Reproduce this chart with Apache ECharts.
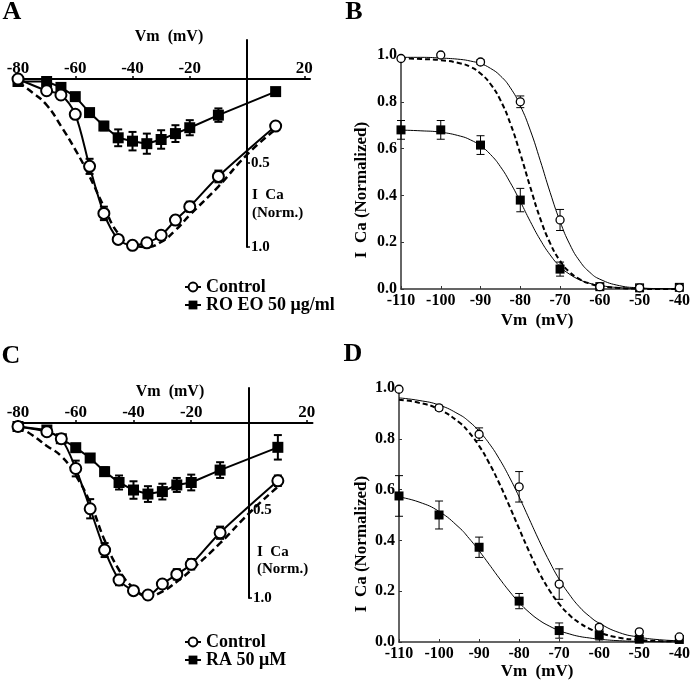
<!DOCTYPE html>
<html><head><meta charset="utf-8">
<script src="https://cdn.jsdelivr.net/npm/echarts@6/dist/echarts.min.js"></script>
<style>html,body{margin:0;padding:0;background:#fff}#c{width:693px;height:681px}</style>
</head><body><div id="c"></div>
<script>
// ---------- Panel A (I-V, RO EO) ----------
const vA = [-80,-70,-65,-60,-55,-50,-45,-40,-35,-30,-25,-20,-10,10];
const ctrlA = [0, 0.07, 0.095, 0.21, 0.52, 0.80, 0.955, 0.99, 0.975, 0.93, 0.84, 0.76, 0.58, 0.28];
const ctrlAErr = [0, 0.01, 0.015, 0.02, 0.045, 0.04, 0.02, 0.015, 0.015, 0.02, 0.025, 0.03, 0.035, 0.02];
const roA = [0.015, 0.015, 0.05, 0.105, 0.20, 0.28, 0.35, 0.37, 0.385, 0.36, 0.325, 0.29, 0.215, 0.075];
const roAErr = [0.01, 0.01, 0.015, 0.02, 0.02, 0.025, 0.05, 0.055, 0.06, 0.055, 0.05, 0.045, 0.04, 0.01];
const dashVA = [-80,-75,-70,-65,-60,-55,-50,-45,-40,-35,-30,-25,-20,-10,0,10];
const dashA = [0.02, 0.08, 0.155, 0.28, 0.42, 0.58, 0.76, 0.92, 0.99, 1.0, 0.97, 0.9, 0.81, 0.64, 0.45, 0.3];
const xTicksAC = [-80,-60,-40,-20,20];
const yTicksAC = [0.5, 1.0];

// ---------- Panel C (I-V, RA) ----------
const vC = [-80,-70,-65,-60,-55,-50,-45,-40,-35,-30,-25,-20,-10,10];
const ctrlC = [0.02, 0.05, 0.09, 0.26, 0.49, 0.726, 0.897, 0.958, 0.983, 0.92, 0.865, 0.807, 0.627, 0.33];
const ctrlCErr = [0.01, 0.015, 0.02, 0.045, 0.055, 0.04, 0.03, 0.02, 0.015, 0.02, 0.03, 0.03, 0.035, 0.03];
const raC = [0.02, 0.04, 0.09, 0.141, 0.20, 0.278, 0.34, 0.383, 0.406, 0.392, 0.354, 0.34, 0.269, 0.139];
const raCErr = [0.01, 0.01, 0.015, 0.02, 0.02, 0.025, 0.04, 0.05, 0.045, 0.045, 0.04, 0.045, 0.045, 0.07];
const dashVC = [-80,-75,-70,-65,-60,-55,-50,-45,-40,-35,-30,-25,-20,-10,0,10];
const dashC = [0.02, 0.07, 0.131, 0.19, 0.3, 0.457, 0.67, 0.84, 0.943, 0.99, 0.963, 0.907, 0.84, 0.687, 0.516, 0.364];

// ---------- Panels B & D (inactivation) ----------
const vBD = [-110,-100,-90,-80,-70,-60,-50,-40];
const ctrlB = [0.985, 1.0, 0.97, 0.80, 0.295, 0.01, 0.005, 0.005];
const ctrlBErr = [0.005, 0.005, 0.01, 0.025, 0.045, 0.005, 0.003, 0.003];
const roB = [0.68, 0.68, 0.615, 0.38, 0.085, 0.01, 0.005, 0.007];
const roBErr = [0.04, 0.04, 0.04, 0.05, 0.03, 0.01, 0.005, 0.005];
const ctrlD = [0.995, 0.922, 0.818, 0.611, 0.228, 0.058, 0.04, 0.02];
const ctrlDErr = [0.005, 0.01, 0.025, 0.06, 0.06, 0.01, 0.005, 0.005];
const raD = [0.575, 0.50, 0.373, 0.161, 0.045, 0.028, 0.011, 0.01];
const raDErr = [0.08, 0.055, 0.04, 0.03, 0.03, 0.02, 0.005, 0.005];

// fitted curves
const fitV = [-110,-105,-100,-95,-92.5,-90,-87.5,-85,-82.5,-80,-77.5,-75,-72.5,-70,-67.5,-65,-62.5,-60,-55,-50,-45,-40];
const fitCtrlB = [0.99,0.99,0.987,0.981,0.974,0.963,0.943,0.911,0.860,0.783,0.679,0.550,0.413,0.289,0.189,0.118,0.071,0.042,0.014,0.005,0.0015,0.0005];
const fitRoB = [0.679,0.676,0.670,0.653,0.637,0.612,0.575,0.523,0.454,0.374,0.289,0.211,0.146,0.096,0.062,0.039,0.024,0.015,0.0056,0.002,0.001,0.0];
const fitDashB = [0.985,0.983,0.978,0.964,0.949,0.921,0.876,0.807,0.707,0.578,0.436,0.302,0.196,0.120,0.071,0.041,0.023,0.013,0.004,0.001,0.0,0.0];
const fitCtrlD = [0.961,0.951,0.933,0.896,0.868,0.830,0.782,0.722,0.651,0.571,0.485,0.399,0.319,0.247,0.188,0.139,0.102,0.074,0.037,0.019,0.009,0.005];
const fitDashD = [0.954,0.942,0.916,0.865,0.825,0.772,0.705,0.626,0.538,0.446,0.356,0.274,0.205,0.150,0.107,0.076,0.053,0.037,0.017,0.008,0.004,0.002];
const fitRaD = [0.571,0.551,0.514,0.451,0.408,0.359,0.306,0.252,0.201,0.155,0.117,0.086,0.063,0.045,0.032,0.022,0.016,0.011,0.005,0.0025,0.001,0.0006];

const FONT = '"Liberation Serif", "Times New Roman", serif';
const zip = (xs, ys) => xs.map((x, i) => [x, ys[i]]);
const errData = (xs, ys, es) => xs.map((x, i) => [x, ys[i] - es[i], ys[i] + es[i]]);

function errSeries(idx, data, lw, cap, z) {
  return {
    type: 'custom', xAxisIndex: idx, yAxisIndex: idx, data: data, z: z || 2, clip: false, silent: true,
    renderItem: function (params, api) {
      const x = api.value(0);
      const p1 = api.coord([x, api.value(1)]);
      const p2 = api.coord([x, api.value(2)]);
      const st = { stroke: '#000', lineWidth: lw };
      return { type: 'group', children: [
        { type: 'line', shape: { x1: p1[0], y1: p1[1], x2: p2[0], y2: p2[1] }, style: st },
        { type: 'line', shape: { x1: p1[0] - cap, y1: p1[1], x2: p1[0] + cap, y2: p1[1] }, style: st },
        { type: 'line', shape: { x1: p2[0] - cap, y1: p2[1], x2: p2[0] + cap, y2: p2[1] }, style: st }
      ]};
    }
  };
}

// I-V panels: data grid has x axis along its top edge (I = 0)
function ivXAxis(idx) {
  return {
    gridIndex: idx, type: 'value', min: -80, max: 22, position: 'top',
    axisLine: { onZero: false, lineStyle: { color: '#000', width: 2 } },
    axisTick: { show: true, inside: false, length: 3, customValues: xTicksAC, lineStyle: { color: '#000', width: 1.5 } },
    axisLabel: { customValues: xTicksAC, margin: 2, color: '#000', fontFamily: FONT, fontWeight: 'bold', fontSize: 17 },
    splitLine: { show: false }
  };
}
function ivYData(idx) {
  return { gridIndex: idx, type: 'value', min: 0, max: 1.0, inverse: true, show: false };
}
// I-V panels: separate thin grid placed at V = 0 carrying the current axis
function ivYAxis(idx, min) {
  return {
    gridIndex: idx, type: 'value', min: min, max: 1.0, inverse: true, position: 'left',
    axisLine: { show: true, onZero: false, lineStyle: { color: '#000', width: 2 } },
    axisTick: { show: true, inside: true, length: 3, customValues: yTicksAC, lineStyle: { color: '#000', width: 1.5 } },
    axisLabel: { inside: true, customValues: yTicksAC, margin: 4, color: '#000', fontFamily: FONT, fontWeight: 'bold', fontSize: 15,
      formatter: v => v.toFixed(1) },
    splitLine: { show: false }
  };
}
function hiddenX(idx) {
  return { gridIndex: idx, type: 'value', min: 0, max: 1, show: false };
}
function inXAxis(idx) {
  return {
    gridIndex: idx, type: 'value', min: -110, max: -40, interval: 10,
    axisLine: { onZero: false, lineStyle: { color: '#333', width: 1.5 } },
    axisTick: { show: true, inside: true, length: 3, lineStyle: { color: '#333' } },
    axisLabel: { margin: 4, color: '#000', fontFamily: FONT, fontWeight: 'bold', fontSize: 16 },
    splitLine: { show: false }
  };
}
function inYAxis(idx) {
  return {
    gridIndex: idx, type: 'value', min: 0, max: 1.0, interval: 0.2,
    axisLine: { show: true, onZero: false, lineStyle: { color: '#333', width: 1.5 } },
    axisTick: { show: true, inside: true, length: 3, lineStyle: { color: '#333' } },
    axisLabel: { margin: 4, color: '#000', fontFamily: FONT, fontWeight: 'bold', fontSize: 16, formatter: v => v.toFixed(1) },
    splitLine: { show: false }
  };
}

function ivSeries(idx, ctrlName, drugName, xs, ctrl, ctrlE, drug, drugE, dX, dY) {
  return [
    { type: 'line', xAxisIndex: idx, yAxisIndex: idx, data: zip(dX, dY), smooth: true, showSymbol: false, silent: true, clip: false,
      lineStyle: { color: '#000', width: 2.5, type: [7, 4] }, z: 1 },
    errSeries(idx, errData(xs, drug, drugE), 2, 4, 2),
    errSeries(idx, errData(xs, ctrl, ctrlE), 2, 4, 2),
    { type: 'line', name: drugName, xAxisIndex: idx, yAxisIndex: idx, data: zip(xs, drug), symbol: 'rect', symbolSize: 11, clip: false,
      itemStyle: { color: '#000' }, lineStyle: { color: '#000', width: 2 }, z: 3 },
    { type: 'line', name: ctrlName, xAxisIndex: idx, yAxisIndex: idx, data: zip(xs, ctrl), smooth: 0.3, symbol: 'circle', symbolSize: 11, clip: false,
      itemStyle: { color: '#fff', borderColor: '#000', borderWidth: 2 }, lineStyle: { color: '#000', width: 2 }, z: 4 }
  ];
}
function inSeries(idx, ctrl, ctrlE, drug, drugE, fC, fD, fDash) {
  const fl = (d, w, t) => ({ type: 'line', xAxisIndex: idx, yAxisIndex: idx, data: zip(fitV, d), smooth: true, showSymbol: false,
    silent: true, lineStyle: { color: '#000', width: w, type: t }, z: 1 });
  return [
    fl(fDash, 2, [5, 3]), fl(fC, 1, 'solid'), fl(fD, 1, 'solid'),
    errSeries(idx, errData(vBD, drug, drugE), 1, 4, 2),
    errSeries(idx, errData(vBD, ctrl, ctrlE), 1, 4, 2),
    { type: 'scatter', name: 'drug' + idx, xAxisIndex: idx, yAxisIndex: idx, data: zip(vBD, drug), symbol: 'rect', symbolSize: 9,
      itemStyle: { color: '#000', opacity: 1 }, z: 3, clip: false },
    { type: 'scatter', name: 'ctrl' + idx, xAxisIndex: idx, yAxisIndex: idx, data: zip(vBD, ctrl), symbol: 'circle', symbolSize: 8,
      itemStyle: { color: '#fff', borderColor: '#000', borderWidth: 1.3, opacity: 1 }, z: 4, clip: false }
  ];
}

const txt = (x, y, s, size, align, rot) => ({
  type: 'text', x: x, y: y, rotation: rot || 0, silent: true,
  style: { text: s, fill: '#000', font: 'bold ' + size + 'px ' + FONT, textAlign: align || 'center', textVerticalAlign: 'middle' }
});

const chart = echarts.init(document.getElementById('c'));
chart.setOption({
  animation: false,
  backgroundColor: '#fff',
  grid: [
    { left: 18, top: 79, width: 292, height: 168 },     // 0 A data
    { left: 401, top: 55, width: 280, height: 234 },    // 1 B
    { left: 18, top: 423, width: 294.5, height: 175 },  // 2 C data
    { left: 399, top: 388, width: 283, height: 254 },   // 3 D
    { left: 247, top: 40, width: 1, height: 207 },      // 4 A current axis
    { left: 249, top: 388, width: 1, height: 210 }      // 5 C current axis
  ],
  xAxis: [ivXAxis(0), inXAxis(1), ivXAxis(2), inXAxis(3), hiddenX(4), hiddenX(5)],
  yAxis: [ivYData(0), inYAxis(1), ivYData(2), inYAxis(3), ivYAxis(4, -0.23), ivYAxis(5, -0.2)],
  legend: [
    { data: ['Control', 'RO EO 50 μg/ml'], orient: 'vertical', left: 184, top: 278, padding: 0, itemGap: 0,
      itemWidth: 16, itemHeight: 11, selectedMode: false,
      textStyle: { color: '#000', fontFamily: FONT, fontWeight: 'bold', fontSize: 18, padding: [0, 0, 0, 0] } },
    { data: ['Control', 'RA 50 μM'], orient: 'vertical', left: 184, top: 633, padding: 0, itemGap: 0,
      itemWidth: 16, itemHeight: 11, selectedMode: false,
      textStyle: { color: '#000', fontFamily: FONT, fontWeight: 'bold', fontSize: 18, padding: [0, 0, 0, 0] } }
  ],
  series: [].concat(
    ivSeries(0, 'Control', 'RO EO 50 μg/ml', vA, ctrlA, ctrlAErr, roA, roAErr, dashVA, dashA),
    ivSeries(2, 'Control', 'RA 50 μM', vC, ctrlC, ctrlCErr, raC, raCErr, dashVC, dashC),
    inSeries(1, ctrlB, ctrlBErr, roB, roBErr, fitCtrlB, fitRoB, fitDashB),
    inSeries(3, ctrlD, ctrlDErr, raD, raDErr, fitCtrlD, fitRaD, fitDashD)
  ),
  graphic: [
    txt(12, 12, 'A', 26), txt(354, 12, 'B', 26), txt(11, 356, 'C', 26), txt(353, 354, 'D', 26),
    txt(169, 37, 'Vm  (mV)', 16), txt(170, 392, 'Vm  (mV)', 16),
    txt(252, 195, 'I  Ca', 15, 'left'), txt(252, 213, '(Norm.)', 15, 'left'),
    txt(257, 552, 'I  Ca', 15, 'left'), txt(257, 569, '(Norm.)', 15, 'left'),
    txt(537, 321, 'Vm  (mV)', 17), txt(537, 672, 'Vm  (mV)', 17),
    txt(362, 190, 'I  Ca (Normalized)', 17, 'center', Math.PI / 2),
    txt(362, 544, 'I  Ca (Normalized)', 17, 'center', Math.PI / 2)
  ]
});
</script></body></html>
